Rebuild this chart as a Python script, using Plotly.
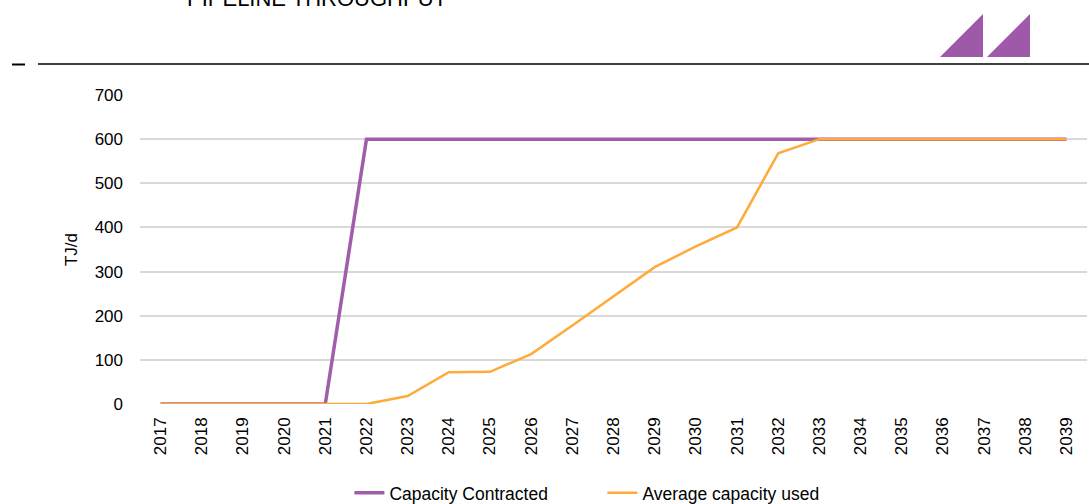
import plotly.graph_objects as go

# data
years = [str(y) for y in range(2017, 2040)]
capacity_contracted = [0, 0, 0, 0, 0] + [600] * 18
avg_capacity_used = [0, 0, 0, 0, 0, 0, 18, 72, 73, 113, 178, 243, 310, 357, 400,
                     568, 600, 600, 600, 600, 600, 600, 600]
y_ticks = [0, 100, 200, 300, 400, 500, 600, 700]

PURPLE = "#A05DAA"
ORANGE = "#FFAB3A"
FONT = "Liberation Sans, Arial, sans-serif"

W, H = 1089, 504
PLOT_L, PLOT_T, PLOT_W, PLOT_H = 140, 95, 947, 309

fig = go.Figure()
fig.add_trace(go.Scatter(
    x=years, y=capacity_contracted, mode="lines", name="Capacity Contracted",
    line=dict(color=PURPLE, width=3.5),
))
fig.add_trace(go.Scatter(
    x=years, y=avg_capacity_used, mode="lines", name="Average capacity used",
    line=dict(color=ORANGE, width=2.5),
))

fig.update_layout(
    width=W, height=H,
    margin=dict(l=PLOT_L, r=W - PLOT_L - PLOT_W, t=PLOT_T, b=H - PLOT_T - PLOT_H,
                autoexpand=False),
    paper_bgcolor="white", plot_bgcolor="white",
    font=dict(family=FONT, size=17, color="#000000"),
    showlegend=True,
    legend=dict(
        orientation="h", x=0.2211, xanchor="left", y=-0.288, yanchor="middle",
        font=dict(size=17.5), entrywidth=208, tracegroupgap=0,
    ),
    xaxis=dict(
        type="category", range=[-0.5, len(years) - 0.5], automargin=False,
        tickangle=-90, showgrid=False, showline=False, ticks="",
        tickfont=dict(size=17), ticklabelstandoff=9,
    ),
    yaxis=dict(
        range=[0, 700], tickvals=y_ticks, showgrid=True, automargin=False,
        gridcolor="#D9D9D9", gridwidth=1.5, zeroline=False, showline=False,
        ticks="", tickfont=dict(size=17), ticklabelstandoff=16,
        title=dict(text="TJ/d", font=dict(size=17), standoff=12),
    ),
)


def px_x(v):
    # picture x pixel -> paper fraction
    return (v - PLOT_L) / PLOT_W


def px_y(v):
    # picture y pixel -> paper fraction
    return (PLOT_T + PLOT_H - v) / PLOT_H


# chart title (cut off at the top edge in the reference)
fig.add_annotation(
    text="PIPELINE THROUGHPUT", xref="paper", yref="paper",
    x=px_x(185), xanchor="left", y=px_y(13), yanchor="bottom",
    showarrow=False, font=dict(family="Liberation Sans Narrow, Arial Narrow, " + FONT,
                               size=22, color="#000000"),
)

# header rule and small dash
fig.add_shape(type="line", xref="paper", yref="paper",
              x0=px_x(38), x1=px_x(1100), y0=px_y(64), y1=px_y(64),
              line=dict(color="black", width=1.5))
fig.add_shape(type="line", xref="paper", yref="paper",
              x0=px_x(12), x1=px_x(25), y0=px_y(64.5), y1=px_y(64.5),
              line=dict(color="black", width=2))

# logo: two purple triangles
for left in (940, 987):
    fig.add_shape(
        type="path", xref="paper", yref="paper",
        path=f"M {px_x(left)} {px_y(57)} L {px_x(left + 43)} {px_y(14)} "
             f"L {px_x(left + 43)} {px_y(57)} Z",
        fillcolor="#9E5AA8", line=dict(width=0),
    )

# drop the default 8px page margin so the figure sits at the window corner
fig.write_html("out.html", config={"displayModeBar": False},
               post_script="document.body.style.margin = '0';")
